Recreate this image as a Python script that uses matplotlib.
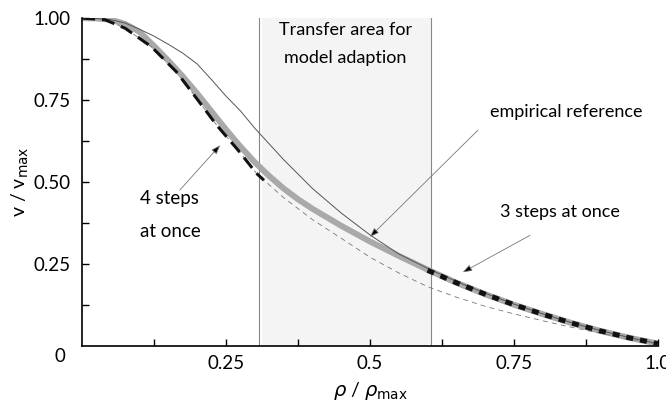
import matplotlib
matplotlib.use('Agg')
import matplotlib.pyplot as plt

plt.rcParams['font.family'] = ['Lato', 'DejaVu Sans']
plt.rcParams['mathtext.fontset'] = 'dejavusans'

# empirical reference (thick grey band)
x_ref = [0, 0.025, 0.05, 0.075, 0.1, 0.125, 0.15, 0.175, 0.2, 0.225, 0.25, 0.275,
         0.3, 0.325, 0.35, 0.375, 0.4, 0.45, 0.5, 0.55, 0.6, 0.65, 0.7, 0.75, 0.8,
         0.85, 0.9, 0.95, 1.0]
v_ref = [1.0, 0.999, 0.995, 0.982, 0.958, 0.915, 0.87, 0.822, 0.77, 0.715, 0.66, 0.608,
         0.56, 0.518, 0.48, 0.447, 0.418, 0.366, 0.318, 0.274, 0.232, 0.192, 0.157,
         0.125, 0.096, 0.069, 0.045, 0.024, 0.006]

# thin solid model curve
x_thin = [0, 0.025, 0.05, 0.075, 0.1, 0.125, 0.15, 0.175, 0.2, 0.225, 0.25, 0.275,
          0.3, 0.35, 0.4, 0.45, 0.5, 0.55, 0.6, 0.65, 0.7, 0.75, 0.8, 0.85, 0.9, 0.95, 1.0]
v_thin = [1.0, 0.999, 0.995, 0.985, 0.966, 0.945, 0.92, 0.893, 0.86, 0.812, 0.762, 0.717,
          0.664, 0.568, 0.48, 0.405, 0.338, 0.28, 0.236, 0.196, 0.16, 0.127, 0.097,
          0.07, 0.046, 0.025, 0.006]

# thin dashed model curve
x_dash = [0, 0.04, 0.075, 0.121, 0.164, 0.199, 0.234, 0.271, 0.303, 0.35, 0.4, 0.45,
          0.5, 0.55, 0.6, 0.65, 0.7, 0.75, 0.8, 0.85, 0.9, 0.95, 1.0]
v_dash = [1.0, 0.995, 0.969, 0.912, 0.836, 0.755, 0.673, 0.597, 0.526, 0.452, 0.385, 0.328,
          0.27, 0.222, 0.18, 0.148, 0.12, 0.097, 0.076, 0.056, 0.038, 0.02, 0.005]

# "4 steps at once"
x_four = [0, 0.04, 0.075, 0.121, 0.164, 0.199, 0.234, 0.271, 0.303, 0.316]
v_four = [1.0, 0.995, 0.969, 0.912, 0.836, 0.755, 0.673, 0.597, 0.526, 0.505]

# "3 steps at once"
x_three = [0.6, 0.65, 0.7, 0.75, 0.8, 0.85, 0.9, 0.95, 1.0]
v_three = [0.23, 0.192, 0.157, 0.125, 0.096, 0.069, 0.045, 0.024, 0.006]

transfer = (0.307, 0.606)

fig = plt.figure(figsize=(6.66, 4.11), dpi=100)
ax = fig.add_axes([0.123, 0.159, 0.865, 0.797])

ax.axvspan(transfer[0] + 0.006, transfer[1], color='#f4f4f4', zorder=0, lw=0)
ax.axvline(transfer[0], color='#888888', lw=0.8, zorder=1)
ax.axvline(transfer[1], color='#888888', lw=0.8, zorder=1)

ax.plot(x_ref, v_ref, color='#a9a9a9', lw=4.3, solid_capstyle='butt',
        solid_joinstyle='round', zorder=2)
ax.plot(x_thin, v_thin, color='#555555', lw=0.7, zorder=3)
ax.plot(x_dash, v_dash, color='#777777', lw=0.6, dashes=(6, 5), zorder=3)
ax.plot(x_four, v_four, color='#111111', lw=2.2, dashes=(4.3, 2.3),
        dash_capstyle='butt', zorder=4)
ax.plot(x_three, v_three, color='#111111', lw=3.6, dashes=(1.4, 1.4),
        dash_capstyle='butt', zorder=4)

fs = 13
ax.text(0.457, 0.963, 'Transfer area for', ha='center', va='center', fontsize=fs)
ax.text(0.457, 0.878, 'model adaption', ha='center', va='center', fontsize=fs)

arrow = dict(arrowstyle='-|>,head_length=0.55,head_width=0.2', ec='#777777',
             fc='black', lw=0.6, shrinkA=0, shrinkB=0)
ax.text(0.708, 0.713, 'empirical reference', ha='left', va='center', fontsize=fs)
ax.annotate('', xy=(0.5, 0.332), xytext=(0.6875, 0.658), arrowprops=arrow)
ax.text(0.726, 0.408, '3 steps at once', ha='left', va='center', fontsize=fs)
ax.annotate('', xy=(0.661, 0.224), xytext=(0.778, 0.337), arrowprops=arrow)
ax.text(0.10, 0.45, '4 steps', ha='left', va='center', fontsize=fs + 0.5)
ax.text(0.10, 0.347, 'at once', ha='left', va='center', fontsize=fs + 0.5)
ax.annotate('', xy=(0.24, 0.612), xytext=(0.170, 0.475), arrowprops=arrow)

ax.set_xlim(0, 1.0)
ax.set_ylim(0, 1.0)
for side in ['top', 'right']:
    ax.spines[side].set_visible(False)
ax.spines['left'].set_linewidth(1.2)
ax.spines['bottom'].set_linewidth(1.2)

ax.set_xticks([0.25, 0.5, 0.75, 1.0])
ax.set_xticklabels(['0.25', '0.5', '0.75', '1.0'])
ax.set_xticks([0.125, 0.375, 0.625, 0.875], minor=True)
ax.set_yticks([0.25, 0.5, 0.75, 1.0])
ax.set_yticklabels(['0.25', '0.50', '0.75', '1.00'])
ax.set_yticks([0.125, 0.375, 0.625, 0.875], minor=True)
ax.tick_params(which='both', direction='in', length=5, width=1, labelsize=13.5)
ax.tick_params(axis='y', pad=8)
ax.tick_params(axis='x', pad=7)
ax.text(-0.038, -0.034, '0', ha='center', va='center', fontsize=13.5,
        transform=ax.transData, clip_on=False)

ax.set_xlabel(r'$\rho$ / $\rho_{\mathsf{max}}$', fontsize=14)
ax.set_ylabel(r'v / v$_{\mathsf{max}}$', fontsize=14)
ax.yaxis.set_label_coords(-0.088, 0.5)
ax.xaxis.set_label_coords(0.5, -0.105)

fig.savefig('out.png', dpi=100)
